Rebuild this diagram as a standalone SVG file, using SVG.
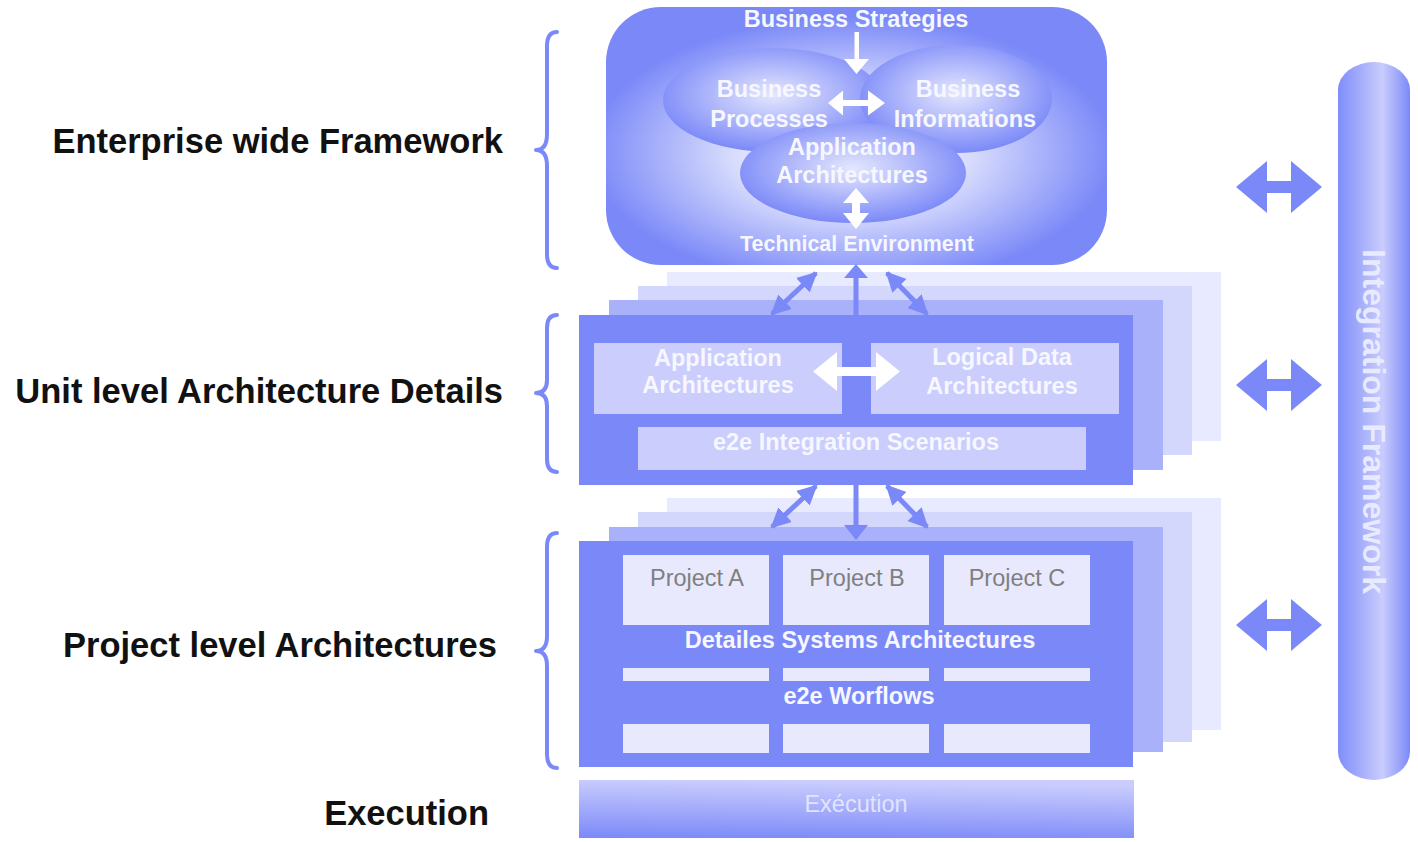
<svg xmlns="http://www.w3.org/2000/svg" width="1418" height="842" viewBox="0 0 1418 842">
<defs>
  <radialGradient id="gBox" cx="0.49" cy="0.56" r="0.52">
    <stop offset="0" stop-color="#ffffff"/>
    <stop offset="0.45" stop-color="#d9ddfd"/>
    <stop offset="1" stop-color="#7b89f8"/>
  </radialGradient>
  <radialGradient id="gEll" cx="0.5" cy="0.45" r="0.55">
    <stop offset="0" stop-color="#e4e7fe"/>
    <stop offset="0.5" stop-color="#b1b9fb"/>
    <stop offset="1" stop-color="#7b89f8"/>
  </radialGradient>
  <linearGradient id="gCyl" x1="0" y1="0" x2="1" y2="0">
    <stop offset="0" stop-color="#7f8df9"/>
    <stop offset="0.3" stop-color="#a3acfa"/>
    <stop offset="0.62" stop-color="#c9ccfd"/>
    <stop offset="0.85" stop-color="#9aa4fa"/>
    <stop offset="1" stop-color="#7b89f8"/>
  </linearGradient>
  <linearGradient id="gExec" x1="0" y1="1" x2="0.12" y2="0">
    <stop offset="0" stop-color="#7b89f8"/>
    <stop offset="1" stop-color="#c9ccfd"/>
  </linearGradient>
  <marker id="bh" markerUnits="userSpaceOnUse" markerWidth="20" markerHeight="20" viewBox="0 0 20 20" refX="18" refY="10" orient="auto-start-reverse">
    <path d="M0,0 L20,10 L0,20 Z" fill="#7b89f8"/>
  </marker>
  <style>
    .lbl{font-family:"Liberation Sans",Arial,sans-serif;font-weight:bold;font-size:34.5px;fill:#111111;text-anchor:end}
    .wt{font-family:"Liberation Sans",Arial,sans-serif;font-weight:bold;font-size:23.5px;fill:#f6f7ff;text-anchor:middle}
    .pt{font-family:"Liberation Sans",Arial,sans-serif;font-size:23.5px;fill:#7f7f7f;text-anchor:middle}
    .brace{fill:none;stroke:#7b89f8;stroke-width:4;stroke-linecap:round;stroke-linejoin:round}
    .blue{fill:#7b89f8}
    .l1{fill:#a9b1fa}
    .l2{fill:#d3d7fb}
    .l3{fill:#e8eaff}
    .inner{fill:#cbcdfd}
    .proj{fill:#e8e9fd}
    .wa{fill:#ffffff}
    .conn{stroke:#7b89f8;stroke-width:5;fill:none}
  </style>
</defs>
<rect x="0" y="0" width="1418" height="842" fill="#ffffff"/>

<!-- Left labels -->
<g id="labels">
  <text class="lbl" x="503" y="153">Enterprise wide Framework</text>
  <text class="lbl" x="503" y="403">Unit level Architecture Details</text>
  <text class="lbl" x="497" y="657">Project level Architectures</text>
  <text class="lbl" x="489" y="825">Execution</text>
</g>

<!-- Braces -->
<g id="braces">
  <path class="brace" d="M557,32 Q547,32 547,46 V134 Q547,150 536,150 Q547,150 547,166 V254 Q547,268 557,268"/>
  <path class="brace" d="M557,315 Q547,315 547,328 V380 Q547,393 536,393 Q547,393 547,406 V459 Q547,472 557,472"/>
  <path class="brace" d="M557,533 Q547,533 547,547 V636 Q547,651 536,651 Q547,651 547,666 V754 Q547,768 557,768"/>
</g>

<!-- Enterprise wide framework node -->
<g id="enterprise">
  <rect x="606" y="7" width="501" height="258" rx="55" fill="url(#gBox)"/>
  <ellipse cx="773" cy="100" rx="110" ry="52" fill="url(#gEll)"/>
  <ellipse cx="956" cy="99" rx="96" ry="54" fill="url(#gEll)"/>
  <ellipse cx="853" cy="173" rx="113" ry="50" fill="url(#gEll)"/>
  <text class="wt" x="856" y="27">Business Strategies</text>
  <text class="wt" x="769" y="97">Business</text>
  <text class="wt" x="769" y="127">Processes</text>
  <text class="wt" x="968" y="97">Business</text>
  <text class="wt" x="965" y="127">Informations</text>
  <text class="wt" x="852" y="155">Application</text>
  <text class="wt" x="852" y="183">Architectures</text>
  <text class="wt" x="857" y="251" style="font-size:21.4px">Technical Environment</text>
  <!-- white arrows -->
  <path class="wa" d="M854.5,32 H859 V59 H869 L856.5,74 L844,59 H854.5 Z"/>
  <path class="wa" d="M828,103 L843,90.5 V100 H868 V90.5 L885,103 L868,115.5 V106 H843 V115.5 Z"/>
  <path class="wa" d="M856,188 L869,203 H860 V213 H869 L856,229 L843,213 H852 V203 H843 Z"/>
</g>

<!-- Unit level node -->
<g id="unit">
  <rect class="l3" x="667" y="272" width="554" height="169"/>
  <rect class="l2" x="638" y="286" width="554" height="169"/>
  <rect class="l1" x="609" y="300" width="554" height="170"/>
  <rect class="blue" x="579" y="315" width="554" height="170"/>
  <rect class="inner" x="594" y="343" width="248" height="71"/>
  <rect class="inner" x="871" y="343" width="248" height="71"/>
  <rect class="inner" x="638" y="427" width="448" height="43"/>
  <path class="wa" d="M813,371.5 L837,352 V367 H876 V352 L900,371.5 L876,391 V376 H837 V391 Z"/>
  <text class="wt" x="718" y="366">Application</text>
  <text class="wt" x="718" y="393">Architectures</text>
  <text class="wt" x="1002" y="365">Logical Data</text>
  <text class="wt" x="1002" y="394">Architectures</text>
  <text class="wt" x="856" y="450">e2e Integration Scenarios</text>
</g>

<!-- Project level node -->
<g id="project">
  <rect class="l3" x="667" y="498" width="554" height="232"/>
  <rect class="l2" x="638" y="512" width="554" height="230"/>
  <rect class="l1" x="609" y="527" width="554" height="225"/>
  <rect class="blue" x="579" y="541" width="554" height="226"/>
  <rect class="proj" x="623" y="555" width="146" height="70"/>
  <rect class="proj" x="783" y="555" width="146" height="70"/>
  <rect class="proj" x="944" y="555" width="146" height="70"/>
  <rect class="proj" x="623" y="668" width="146" height="13"/>
  <rect class="proj" x="783" y="668" width="146" height="13"/>
  <rect class="proj" x="944" y="668" width="146" height="13"/>
  <rect class="proj" x="623" y="724" width="146" height="29"/>
  <rect class="proj" x="783" y="724" width="146" height="29"/>
  <rect class="proj" x="944" y="724" width="146" height="29"/>
  <text class="pt" x="697" y="586">Project A</text>
  <text class="pt" x="857" y="586">Project B</text>
  <text class="pt" x="1017" y="586">Project C</text>
  <text class="wt" x="860" y="648">Detailes Systems Architectures</text>
  <text class="wt" x="859" y="704">e2e Worflows</text>
</g>

<!-- Execution node -->
<g id="execution">
  <rect x="579" y="780" width="555" height="58" fill="url(#gExec)"/>
  <text class="pt" x="856" y="812" style="fill:#e2e4fe">Exécution</text>
</g>

<!-- Integration framework node -->
<g id="integration">
  <path d="M1338,90 A36,28 0 0 1 1410,90 V752 A36,28 0 0 1 1338,752 Z" fill="url(#gCyl)"/>
  <text transform="translate(1363,421.5) rotate(90)" x="0" y="0" style="font-family:'Liberation Sans',Arial,sans-serif;font-weight:bold;font-size:32px;fill:#e8eaff;text-anchor:middle">Integration Framework</text>
</g>

<!-- Connectors -->
<g id="connectors">
  <!-- enterprise <-> unit -->
  <line class="conn" x1="856" y1="276" x2="856" y2="315"/>
  <path class="blue" d="M856,264 L868,278 H844 Z"/>
  <line class="conn" x1="772" y1="314" x2="816" y2="273" marker-start="url(#bh)" marker-end="url(#bh)"/>
  <line class="conn" x1="887" y1="273" x2="927" y2="314" marker-start="url(#bh)" marker-end="url(#bh)"/>
  <!-- unit <-> project -->
  <line class="conn" x1="856" y1="485" x2="856" y2="526"/>
  <path class="blue" d="M844,525 H868 L856,540 Z"/>
  <line class="conn" x1="772" y1="527" x2="816" y2="486" marker-start="url(#bh)" marker-end="url(#bh)"/>
  <line class="conn" x1="887" y1="486" x2="927" y2="527" marker-start="url(#bh)" marker-end="url(#bh)"/>
  <!-- integration double arrows -->
  <path class="blue" d="M1236,187 L1267,161 V181 H1291 V161 L1322,187 L1291,213 V193 H1267 V213 Z"/>
  <path class="blue" d="M1236,385 L1267,359 V379 H1291 V359 L1322,385 L1291,411 V391 H1267 V411 Z"/>
  <path class="blue" d="M1236,625 L1267,599 V619 H1291 V599 L1322,625 L1291,651 V631 H1267 V651 Z"/>
</g>
</svg>
